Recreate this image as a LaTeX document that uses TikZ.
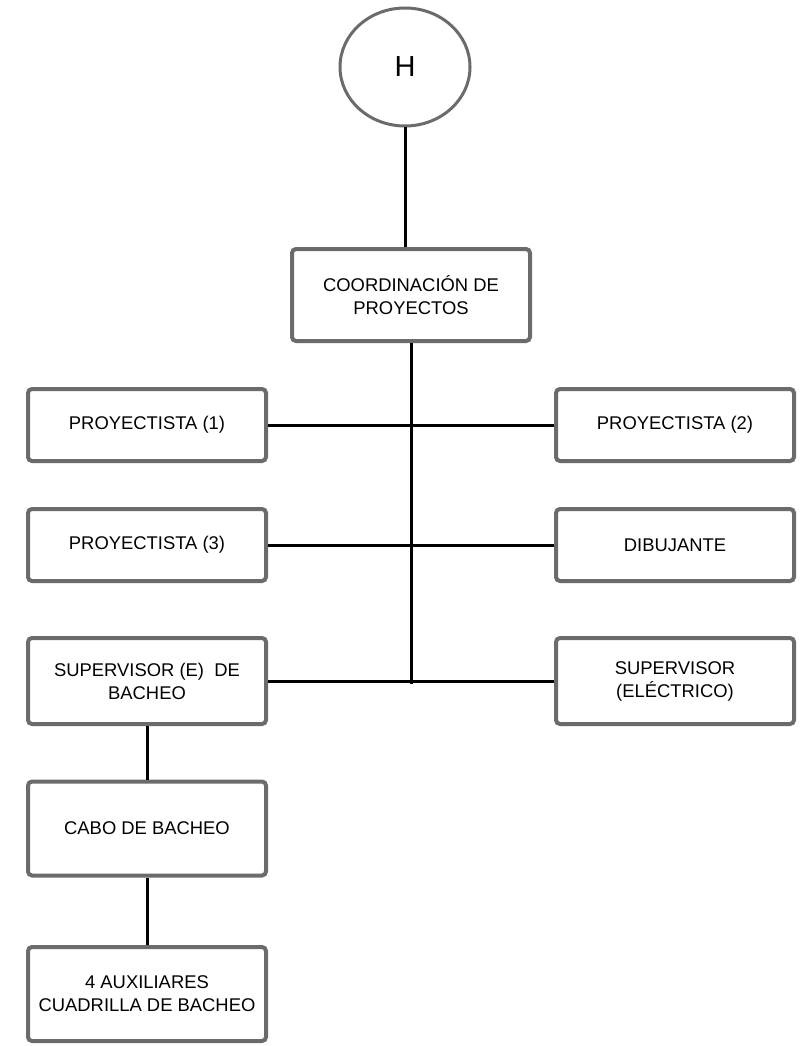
\documentclass[tikz,border=0pt]{standalone}
\usepackage{fontspec}
\setmainfont{Liberation Sans}
\usetikzlibrary{shapes.geometric}
\definecolor{boxgray}{HTML}{6B6B6B}
\tikzset{
  orgbox/.style={draw=boxgray, line width=4pt, rounded corners=4pt, fill=white,
    minimum width=238pt, align=center, font=\fontsize{18.4}{23}\selectfont, inner sep=0pt},
  link/.style={draw=black, line width=3pt},
  headcirc/.style={ellipse, draw=boxgray, line width=3pt, minimum width=130pt, minimum height=118pt,
    inner sep=0pt, font=\fontsize{29}{32}\selectfont}
}
\begin{document}
\begin{tikzpicture}[x=1pt,y=-1pt]
\useasboundingbox (0,0) rectangle (801,1046);
\node[headcirc] (h) at (405,67) {H};
\node[orgbox, minimum height=92pt] (coord) at (411,295) {COORDINACIÓN DE\\PROYECTOS};
\node[orgbox, minimum height=72pt] (p1) at (147,425) {PROYECTISTA (1)};
\node[orgbox, minimum height=72pt] (p2) at (675,425) {PROYECTISTA (2)};
\node[orgbox, minimum height=72pt] (p3) at (147,545) {PROYECTISTA (3)};
\node[orgbox, minimum height=72pt] (dib) at (675,545) {DIBUJANTE};
\node[orgbox, minimum height=86pt] (sup) at (147,681) {SUPERVISOR (E)~~DE\\BACHEO};
\node[orgbox, minimum height=86pt] (supe) at (675,681) {SUPERVISOR\\(ELÉCTRICO)};
\node[orgbox, minimum height=94pt] (cabo) at (147,828.5) {CABO DE BACHEO};
\node[orgbox, minimum height=94pt] (aux) at (147,994) {4 AUXILIARES\\CUADRILLA DE BACHEO};
\coordinate (trunk) at (411,684);
\draw[link] (h.south) -- (h.south |- coord.north);
\draw[link] (coord.south) -- (trunk);
\draw[link] (p1.east) -- (p2.west);
\draw[link] (p3.east) -- (dib.west);
\draw[link] (sup.east) -- (supe.west);
\draw[link] (sup.south) -- (cabo.north);
\draw[link] (cabo.south) -- (aux.north);
\end{tikzpicture}
\end{document}
